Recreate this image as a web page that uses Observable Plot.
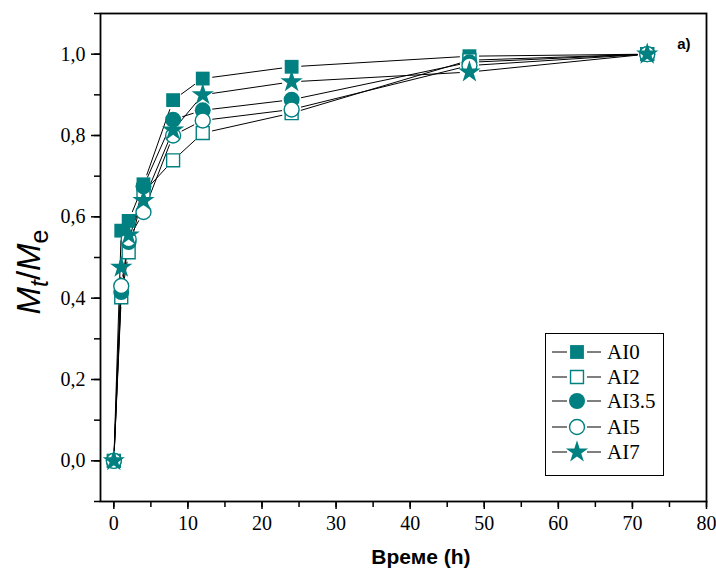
<!DOCTYPE html>
<html>
<head>
<meta charset="utf-8">
<script src="https://cdn.jsdelivr.net/npm/d3@7"></script>
<script src="https://cdn.jsdelivr.net/npm/@observablehq/plot@0.6"></script>
<style>
  html, body { margin: 0; padding: 0; background: #fff; }
  #wrap { position: relative; width: 716px; height: 571px; }
  #legend { position: absolute; left: 545px; top: 333px; }
</style>
</head>
<body>
<div id="wrap"></div>
<script>
// ---- data ----
const times = [0, 1, 2, 4, 8, 12, 24, 48, 72];
const seriesNames = ["AI0", "AI2", "AI3.5", "AI5", "AI7"];
const AI0   = [0, 0.566, 0.590, 0.680, 0.887, 0.940, 0.969, 0.995, 1.0];
const AI2   = [0, 0.402, 0.513, 0.660, 0.739, 0.806, 0.855, 0.985, 1.0];
const AI3_5 = [0, 0.415, 0.538, 0.675, 0.839, 0.862, 0.888, 0.980, 1.0];
const AI5   = [0, 0.430, 0.545, 0.612, 0.800, 0.837, 0.864, 0.972, 1.0];
const AI7   = [0, 0.476, 0.555, 0.640, 0.813, 0.900, 0.932, 0.956, 1.0];
const seriesValues = [AI0, AI2, AI3_5, AI5, AI7];
const xTicks = [0, 10, 20, 30, 40, 50, 60, 70, 80];
const yTicks = [0, 0.2, 0.4, 0.6, 0.8, 1.0];

// ---- styles ----
const TEAL = "#008080";
const styles = {
  "AI0":   {symbol: "square", fill: TEAL, stroke: "none", r: 7.8},
  "AI2":   {symbol: "square", fill: "white", stroke: TEAL, r: 7.3},
  "AI3.5": {symbol: "circle", fill: TEAL, stroke: "none", r: 8},
  "AI5":   {symbol: "circle", fill: "white", stroke: TEAL, r: 7.5},
  "AI7":   {symbol: "star", fill: TEAL, stroke: "none", r: 7}
};

const points = [];
seriesNames.forEach((s, i) => times.forEach((t, j) => points.push({series: s, t, v: seriesValues[i][j]})));

const W = 716, H = 571;
const common = {
  width: W, height: H,
  marginLeft: 100, marginRight: 10, marginTop: 13, marginBottom: 70,
  x: {domain: [-1.8, 80]},
  y: {domain: [-0.1, 1.1]}
};

// first pass to get scales for line gaps
const probe = Plot.plot({...common, marks: [Plot.frame()]});
const sx = probe.scale("x"), sy = probe.scale("y");
const GAP = 10;

const lineMarks = [];
seriesNames.forEach((s, i) => {
  const vals = seriesValues[i];
  for (let j = 0; j < times.length - 1; j++) {
    const seg = {x1: times[j], y1: vals[j], x2: times[j + 1], y2: vals[j + 1]};
    const L = Math.hypot(sx.apply(seg.x2) - sx.apply(seg.x1), sy.apply(seg.y2) - sy.apply(seg.y1));
    if (L <= 2 * GAP + 2) continue;
    lineMarks.push(Plot.arrow([seg], {
      x1: "x1", y1: "y1", x2: "x2", y2: "y2",
      headLength: 0, insetStart: GAP, insetEnd: GAP,
      stroke: "black", strokeWidth: 1
    }));
  }
});

const dotMarks = seriesNames.map(s => Plot.dot(points.filter(d => d.series === s), {
  x: "t", y: "v", symbol: () => styles[s].symbol, r: styles[s].r,
  fill: styles[s].fill, stroke: styles[s].stroke, strokeWidth: 1.4
}));

const fmt = d => d.toFixed(1).replace(".", ",");
const tickFont = {fontFamily: "Liberation Serif", fontSize: 20};

const plot = Plot.plot({
  ...common,
  style: {fontFamily: "Liberation Serif", fontSize: "20px", color: "black", background: "white", overflow: "visible"},
  marks: [
    // minor ticks
    Plot.axisX(d3.range(0, 81, 5), {tickSize: 6, tickFormat: () => "", label: null, strokeWidth: 1.5}),
    Plot.axisY(d3.range(-0.1, 1.11, 0.1).map(d => +d.toFixed(1)), {tickSize: 6, tickFormat: () => "", label: null, strokeWidth: 1.5}),
    // major ticks
    Plot.axisX(xTicks, {tickSize: 8, tickPadding: 6, label: null, strokeWidth: 1.5, ...tickFont}),
    Plot.axisY(yTicks, {tickSize: 9, tickPadding: 6, tickFormat: fmt, label: null, strokeWidth: 1.5, ...tickFont}),
    ...lineMarks,
    ...dotMarks,
    Plot.frame({stroke: "black", strokeWidth: 1.8}),
    Plot.text(["a)"], {frameAnchor: "top-right", text: d => d, dx: -16, dy: 25, textAnchor: "end",
      fontWeight: "bold", fontSize: 15, fontFamily: "Liberation Sans"})
  ]
});

const wrap = document.getElementById("wrap");
wrap.appendChild(plot);

// axis titles
const svg = d3.select(plot);
svg.append("text")
  .attr("x", 421).attr("y", 564)
  .attr("text-anchor", "middle")
  .style("font-family", "Liberation Sans").style("font-weight", "bold").style("font-size", "21px")
  .text("Време (h)");

const yl = svg.append("text")
  .attr("transform", "translate(40,272) rotate(-90)")
  .attr("text-anchor", "middle")
  .style("font-family", "Liberation Sans").style("font-size", "33px");
yl.append("tspan").style("font-style", "italic").text("M");
yl.append("tspan").style("font-style", "italic").style("font-size", "25px").attr("dy", 8).text("t");
yl.append("tspan").attr("dy", -8).text("/");
yl.append("tspan").style("font-style", "italic").text("M");
yl.append("tspan").style("font-size", "25px").attr("dy", 8).text("e");

// legend
const legW = 118, legH = 142, rowY = [19, 44, 68, 94, 119];
const leg = d3.select(wrap).append("svg").attr("id", "legend")
  .attr("width", legW + 2).attr("height", legH + 2);
leg.append("rect").attr("x", 0.5).attr("y", 0.5).attr("width", legW).attr("height", legH)
  .attr("fill", "white").attr("stroke", "black").attr("stroke-width", 1);
const symMap = {square: d3.symbolSquare, circle: d3.symbolCircle, star: d3.symbolStar};
seriesNames.forEach((s, i) => {
  const st = styles[s], y = rowY[i];
  const g = leg.append("g").attr("transform", `translate(0,${y})`);
  g.append("line").attr("x1", 7).attr("x2", 56).attr("y1", 0).attr("y2", 0).attr("stroke", "black").attr("stroke-width", 1);
  g.append("rect").attr("x", 22).attr("y", -10).attr("width", 20).attr("height", 20).attr("fill", "white");
  g.append("path").attr("transform", "translate(32,0)")
    .attr("d", d3.symbol(symMap[st.symbol], Math.PI * st.r * st.r)())
    .attr("fill", st.fill).attr("stroke", st.stroke).attr("stroke-width", 1.4);
  g.append("text").attr("x", 62).attr("y", 7)
    .style("font-family", "Liberation Serif").style("font-size", "21px").text(s);
});
</script>
</body>
</html>
